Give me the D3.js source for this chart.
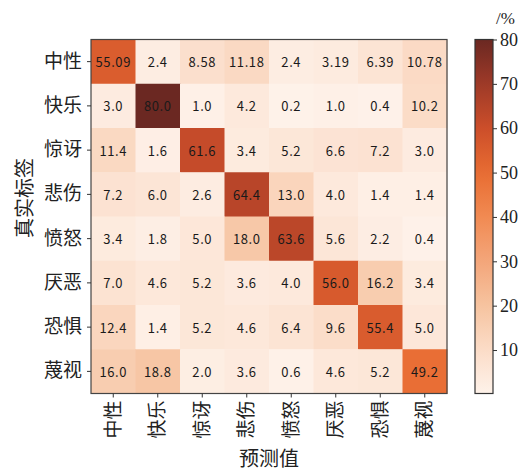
<!DOCTYPE html>
<meta charset="utf-8">
<head>
    <title>混淆矩阵</title>
</head>
<style>
    body { margin: 0; background: #fff; }
</style>
<div id="chart"></div>
<script src="https://d3js.org/d3.v7.min.js"></script>
<script>

    // labels (rows = true label, cols = predicted)
    var labels = ["中性", "快乐", "惊讶", "悲伤", "愤怒", "厌恶", "恐惧", "蔑视"];

    var row_neutral  = ["55.09", "2.4", "8.58", "11.18", "2.4", "3.19", "6.39", "10.78"];
    var row_happy    = ["3.0", "80.0", "1.0", "4.2", "0.2", "1.0", "0.4", "10.2"];
    var row_surprise = ["11.4", "1.6", "61.6", "3.4", "5.2", "6.6", "7.2", "3.0"];
    var row_sad      = ["7.2", "6.0", "2.6", "64.4", "13.0", "4.0", "1.4", "1.4"];
    var row_angry    = ["3.4", "1.8", "5.0", "18.0", "63.6", "5.6", "2.2", "0.4"];
    var row_disgust  = ["7.0", "4.6", "5.2", "3.6", "4.0", "56.0", "16.2", "3.4"];
    var row_fear     = ["12.4", "1.4", "5.2", "4.6", "6.4", "9.6", "55.4", "5.0"];
    var row_contempt = ["16.0", "18.8", "2.0", "3.6", "0.6", "4.6", "5.2", "49.2"];

    var rows = [row_neutral, row_happy, row_surprise, row_sad, row_angry, row_disgust, row_fear, row_contempt];

    var cbarTicks = [10, 20, 30, 40, 50, 60, 70, 80];
    var vmin = 0.2, vmax = 80;

    var cells = [];
    rows.forEach(function(r, i) {
        r.forEach(function(v, j) {
            cells.push({ row: labels[i], col: labels[j], text: v, value: +v });
        });
    });

    var W = 522, H = 473;
    var plot = { left: 91, top: 39.5, width: 356, height: 354 };

    var svg = d3.select("#chart")
      .append("svg")
        .attr("width", W)
        .attr("height", H);

    var color = d3.scaleLinear()
        .domain([0, 10, 20, 30, 40, 50, 60, 70, 80])
        .range(["#fef2ea", "#fbdcc8", "#f6c3a0", "#f4a67a", "#f18a52", "#e86c32", "#cc4e2a", "#9e3a28", "#6b2822"])
        .interpolate(d3.interpolateRgb)
        .clamp(true);

    var x = d3.scaleBand().domain(labels).range([0, plot.width]);
    var y = d3.scaleBand().domain(labels).range([0, plot.height]);

    var g = svg.append("g")
        .attr("transform", "translate(" + plot.left + "," + plot.top + ")");

    g.selectAll("rect.cell")
        .data(cells)
      .enter().append("rect")
        .attr("class", "cell")
        .attr("x", function(d) { return x(d.col); })
        .attr("y", function(d) { return y(d.row); })
        .attr("width", x.bandwidth() + 0.5)
        .attr("height", y.bandwidth() + 0.5)
        .attr("fill", function(d) { return color(d.value); });

    g.selectAll("text.val")
        .data(cells)
      .enter().append("text")
        .attr("class", "val")
        .attr("x", function(d) { return x(d.col) + x.bandwidth() / 2; })
        .attr("y", function(d) { return y(d.row) + y.bandwidth() / 2; })
        .attr("text-anchor", "middle")
        .attr("dominant-baseline", "central")
        .style("font-family", "'Noto Sans CJK SC', 'DejaVu Sans', sans-serif")
        .style("font-size", "13px")
        .style("letter-spacing", "0.6px")
        .style("fill", "#1a1a1a")
        .text(function(d) { return d.text; });

    // frame
    g.append("rect")
        .attr("width", plot.width)
        .attr("height", plot.height)
        .attr("fill", "none")
        .attr("stroke", "#444")
        .attr("stroke-width", 1.2);

    // axes
    var yAxis = g.append("g")
        .call(d3.axisLeft(y).tickSize(4).tickPadding(5));
    var xAxis = g.append("g")
        .attr("transform", "translate(0," + plot.height + ")")
        .call(d3.axisBottom(x).tickSize(4).tickPadding(4));

    [xAxis, yAxis].forEach(function(a) {
        a.select(".domain").remove();
        a.selectAll(".tick line").attr("stroke", "#333");
        a.selectAll(".tick text")
            .style("font-family", "'Noto Sans CJK SC', sans-serif")
            .style("font-size", "19px")
            .style("fill", "#222");
    });

    xAxis.selectAll(".tick text")
        .attr("transform", "rotate(-90)")
        .attr("text-anchor", "end")
        .attr("dy", "0.35em")
        .attr("x", -7)
        .attr("y", 0);

    svg.append("text")
        .attr("x", plot.left + plot.width / 2)
        .attr("y", 457)
        .attr("text-anchor", "middle")
        .attr("dominant-baseline", "central")
        .style("font-family", "'Noto Sans CJK SC', sans-serif")
        .style("font-size", "20px")
        .style("fill", "#222")
        .text("预测值");

    svg.append("text")
        .attr("transform", "translate(23,198) rotate(-90)")
        .attr("text-anchor", "middle")
        .attr("dominant-baseline", "central")
        .style("font-family", "'Noto Sans CJK SC', sans-serif")
        .style("font-size", "20px")
        .style("fill", "#222")
        .text("真实标签");

    // colorbar
    var cb = { left: 475, top: plot.top, width: 18, height: plot.height };
    var cy = d3.scaleLinear().domain([vmin, vmax]).range([cb.height, 0]);

    var defs = svg.append("defs");
    var grad = defs.append("linearGradient")
        .attr("id", "cbgrad")
        .attr("x1", 0).attr("y1", 1).attr("x2", 0).attr("y2", 0);
    d3.range(0, 1.0001, 0.05).forEach(function(t) {
        var v = vmin + t * (vmax - vmin);
        grad.append("stop")
            .attr("offset", t)
            .attr("stop-color", color(v));
    });

    var cbg = svg.append("g")
        .attr("transform", "translate(" + cb.left + "," + cb.top + ")");
    cbg.append("rect")
        .attr("width", cb.width)
        .attr("height", cb.height)
        .attr("fill", "url(#cbgrad)")
        .attr("stroke", "#333")
        .attr("stroke-width", 1.2);

    var cAxis = cbg.append("g")
        .attr("transform", "translate(" + cb.width + ",0)")
        .call(d3.axisRight(cy).tickValues(cbarTicks).tickSize(4).tickPadding(3));
    cAxis.select(".domain").remove();
    cAxis.selectAll(".tick line").attr("stroke", "#333");
    cAxis.selectAll(".tick text")
        .style("font-family", "'Liberation Serif', serif")
        .style("font-size", "18px")
        .style("fill", "#222");

    svg.append("text")
        .attr("x", 496)
        .attr("y", 24)
        .style("font-family", "'Liberation Serif', serif")
        .style("font-size", "17px")
        .style("fill", "#222")
        .text("/%");

</script>
